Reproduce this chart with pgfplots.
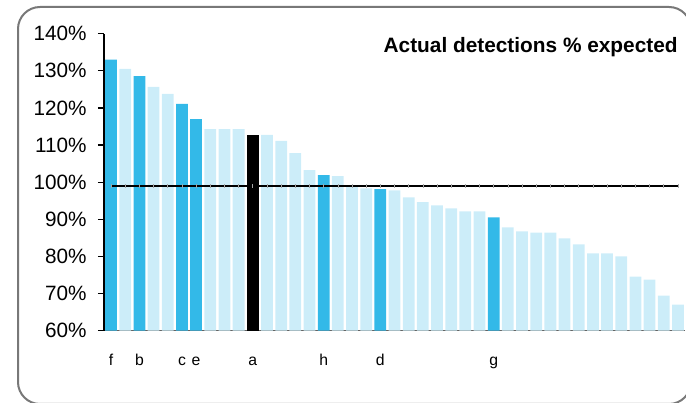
\documentclass[border=0pt]{standalone}
\usepackage{fontspec}
\setmainfont{Liberation Sans}
\usepackage{pgfplots}
\usepackage{pgfplotstable}
\pgfplotsset{compat=1.18}
\definecolor{bblue}{RGB}{51,185,232}
\definecolor{lblue}{RGB}{204,237,249}
\definecolor{framegray}{RGB}{120,120,120}
\definecolor{axgray}{RGB}{100,100,100}

\pgfplotstableread{
x y
1 133.0
3 128.6
6 121.1
7 117.0
16 101.9
20 98.1
28 90.5
}\highlighted
\pgfplotstableread{
x y
11 112.7
}\selected
\pgfplotstableread{
x y
2 130.5
4 125.7
5 123.8
8 114.3
9 114.3
10 114.3
12 112.7
13 111.1
14 107.8
15 103.2
17 101.6
18 98.9
19 98.3
21 97.8
22 95.9
23 94.6
24 93.75
25 92.9
26 92.1
27 92.1
29 87.8
30 86.7
31 86.4
32 86.4
33 84.8
34 83.2
35 80.8
36 80.8
37 80.0
38 74.5
39 73.7
40 69.4
41 67.0
}\others

\begin{document}
\begin{tikzpicture}
\path[use as bounding box] (0,0) rectangle (343bp,201.5bp);
\clip (0,0) rectangle (343bp,201.5bp);
\draw[framegray, line width=1bp, rounded corners=11bp] (9bp,-0.5bp) rectangle (345.5bp,198bp);
\begin{axis}[
  at={(52bp,36.25bp)}, anchor=south west,
  scale only axis, width=290.5bp, height=148.4bp,
  xmin=0.5, xmax=41.5, ymin=60, ymax=140,
  axis x line*=bottom, axis y line*=left,
  axis line style={-},
  x axis line style={draw=axgray, line width=0.8bp},
  y axis line style={draw=black, line width=0.6bp},
  ytick={60,70,80,90,100,110,120,130,140},
  yticklabels={60\%,70\%,80\%,90\%,100\%,110\%,120\%,130\%,140\%},
  xtick={1,3,6,7,11,16,20,28},
  xticklabels={f,b,c,e,a,h,d,g},
  tick align=outside,
  major tick length=3bp,
  ytick style={draw=black, line width=0.6bp},
  xtick style={draw=none},
  yticklabel style={font=\fontsize{10.4}{12}\selectfont, anchor=east, inner sep=0pt, xshift=-5.5bp},
  xticklabel style={font=\fontsize{7.9}{9}\selectfont, anchor=base, inner sep=0pt, yshift=-14.3bp},
  bar width=0.83,
]
\addplot[ybar, bar shift=0pt, fill=lblue, draw=none] table[x=x,y=y] {\others};
\addplot[ybar, bar shift=0pt, fill=bblue, draw=none] table[x=x,y=y] {\highlighted};
\addplot[ybar, bar shift=0pt, fill=black, draw=none] table[x=x,y=y] {\selected};
\addplot[only marks, mark=|, mark size=0.9bp, mark options={draw=gray!70, line width=0.3bp}] coordinates {
(1,99)(2,99)(3,99)(4,99)(5,99)(6,99)(7,99)(8,99)(9,99)(10,99)(11,99)(12,99)(13,99)(14,99)
(15,99)(16,99)(17,99)(18,99)(19,99)(20,99)(21,99)(22,99)(23,99)(24,99)(25,99)(26,99)(27,99)
(28,99)(29,99)(30,99)(31,99)(32,99)(33,99)(34,99)(35,99)(36,99)(37,99)(38,99)(39,99)(40,99)(41,99)};
\addplot[black, line width=1.15bp, no marks] coordinates {(1,99)(41,99)};
\end{axis}
\node[anchor=base east, inner sep=0pt, font=\fontsize{10.45}{12}\selectfont\bfseries] at (339bp,175.35bp) {Actual detections \% expected};
\end{tikzpicture}
\end{document}
